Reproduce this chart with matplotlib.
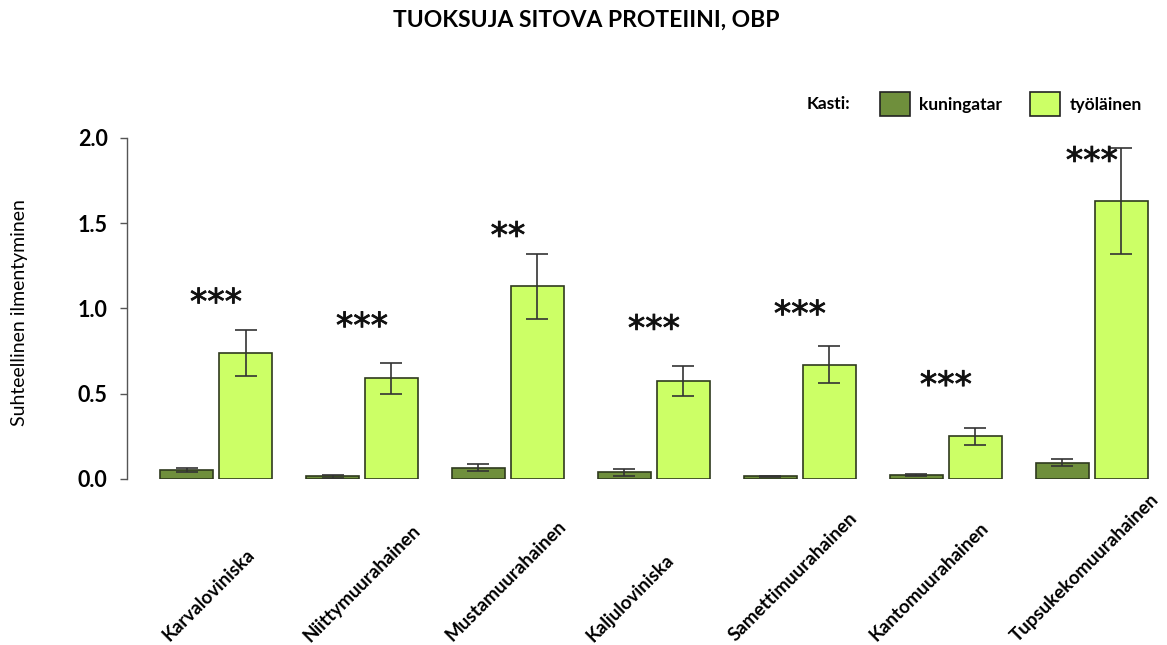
import matplotlib
matplotlib.use("Agg")
import matplotlib.pyplot as plt
import matplotlib.patheffects as pe
import numpy as np
from matplotlib.patches import Patch
from matplotlib.transforms import blended_transform_factory

species = [
    "Karvaloviniska",
    "Niittymuurahainen",
    "Mustamuurahainen",
    "Kaljuloviniska",
    "Samettimuurahainen",
    "Kantomuurahainen",
    "Tupsukekomuurahainen",
]
queen_mean = [0.05, 0.015, 0.065, 0.04, 0.015, 0.025, 0.095]
queen_err = [0.012, 0.008, 0.02, 0.02, 0.005, 0.005, 0.02]
worker_mean = [0.74, 0.59, 1.13, 0.575, 0.67, 0.25, 1.63]
worker_err = [0.135, 0.09, 0.19, 0.09, 0.11, 0.05, 0.31]
signif = ["***", "***", "**", "***", "***", "***", "***"]
signif_y = [1.03, 0.89, 1.42, 0.875, 0.96, 0.545, 1.86]

QUEEN = "#6f8f3c"
WORKER = "#ccff66"
EDGE = "#2f3a1e"

plt.rcParams["font.family"] = ["Lato", "DejaVu Sans"]

fig = plt.figure(figsize=(11.67, 6.45), dpi=100)
ax = fig.add_axes([0.1088, 0.2574, 0.885, 0.5287])

x = np.arange(len(species))
width = 0.363
off = 0.202
err_kw = {"ecolor": "#333333", "elinewidth": 1.2, "capthick": 1.2}
ax.bar(x - off, queen_mean, width, yerr=queen_err, capsize=8,
       color=QUEEN, edgecolor=EDGE, linewidth=1.2, error_kw=err_kw)
ax.bar(x + off, worker_mean, width, yerr=worker_err, capsize=8,
       color=WORKER, edgecolor=EDGE, linewidth=1.2, error_kw=err_kw)

star_fx = [pe.withStroke(linewidth=0.6, foreground="#111111")]
for xi, s, ys in zip(x, signif, signif_y):
    ax.text(xi, ys, s, ha="center", va="center", fontsize=25,
            family="DejaVu Sans", color="#111111", path_effects=star_fx)

ax.set_xlim(-0.61, 6.465)
ax.set_ylim(0, 2.0)
ax.set_yticks([0.0, 0.5, 1.0, 1.5, 2.0])
ax.set_yticklabels([f"{v:.1f}" for v in [0.0, 0.5, 1.0, 1.5, 2.0]],
                   fontsize=15.5, fontweight="bold")
ax.tick_params(axis="y", direction="out", length=5, width=1, color="#555555", pad=9)
ax.set_xticks([])
for side in ["top", "right", "bottom"]:
    ax.spines[side].set_visible(False)
ax.spines["left"].set_color("#555555")
ax.spines["left"].set_linewidth(1)

# species names run diagonally below the bars
trans = blended_transform_factory(ax.transData, fig.transFigure)
label_x = np.arange(len(species)) * 0.969 - 0.32
for lx, name in zip(label_x, species):
    ax.text(lx, 0.004, name, transform=trans, rotation=45, rotation_mode="anchor",
            ha="left", va="baseline", fontsize=13.5, fontweight="bold", clip_on=False)

fig.text(0.017, 0.515, "Suhteellinen ilmentyminen", rotation=90, ha="center",
         va="center", fontsize=14)
fig.text(0.502, 0.969, "TUOKSUJA SITOVA PROTEIINI, OBP", ha="center", va="center",
         fontsize=16.5, fontweight="bold")

fig.text(0.729, 0.838, "Kasti:", ha="right", va="center", fontsize=12.5, fontweight="bold")
handles = [Patch(facecolor=QUEEN, edgecolor="#222222", linewidth=1.2),
           Patch(facecolor=WORKER, edgecolor="#222222", linewidth=1.2)]
fig.legend(handles, ["kuningatar", "työläinen"], loc="center left",
           bbox_to_anchor=(0.741, 0.838), ncol=2, frameon=False,
           prop={"weight": "bold", "size": 12.5}, handlelength=1.7,
           handleheight=1.75, handletextpad=0.55, columnspacing=1.6)

fig.savefig("out.png", dpi=100)
